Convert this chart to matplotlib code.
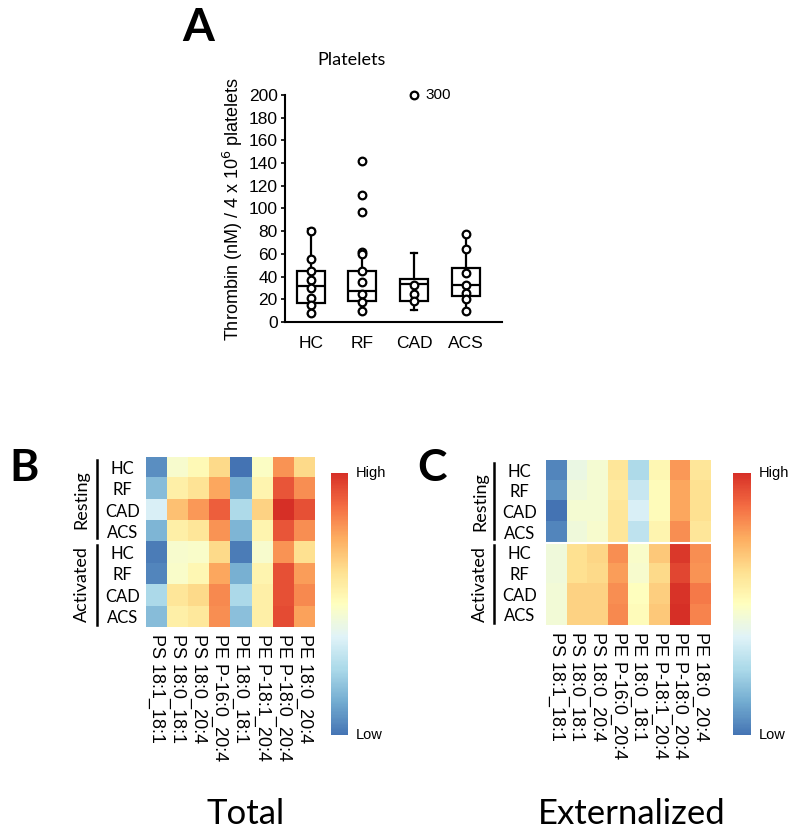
import numpy as np
import matplotlib.pyplot as plt
import matplotlib.colors as mcolors
import matplotlib.transforms as mtrans

# ---- panel A data (thrombin generation, platelets) ----
groups = ["HC", "RF", "CAD", "ACS"]
q1 = [17, 19, 19, 23]
med = [32, 27, 34, 33]
q3 = [45, 45, 38, 48]
whislo = [7, 10, 11, 10]
whishi = [82, 62, 61, 78]
pts_hc = [80, 56, 45, 37, 30, 21, 15, 8]
pts_rf = [142, 112, 97, 62, 60, 45, 35, 25, 18, 10]
pts_cad = [300, 33, 25, 19]
pts_acs = [78, 64, 43, 33, 26, 20, 10]
y_top = 200

# ---- heatmap data (relative level, 0 = low, 1 = high) ----
lipids = ["PS 18:1_18:1", "PS 18:0_18:1", "PS 18:0_20:4", "PE P-16:0_20:4",
          "PE 18:0_18:1", "PE P-18:1_20:4", "PE P-18:0_20:4", "PE 18:0_20:4"]
rows = ["HC", "RF", "CAD", "ACS", "HC", "RF", "CAD", "ACS"]

total = np.array([
    [0.06, 0.47, 0.52, 0.64, 0.00, 0.49, 0.80, 0.64],
    [0.17, 0.56, 0.61, 0.76, 0.13, 0.54, 0.92, 0.81],
    [0.36, 0.70, 0.79, 0.90, 0.26, 0.66, 1.00, 0.93],
    [0.15, 0.56, 0.60, 0.80, 0.15, 0.54, 0.92, 0.81],
    [0.02, 0.47, 0.48, 0.64, 0.02, 0.47, 0.80, 0.62],
    [0.04, 0.48, 0.53, 0.76, 0.14, 0.54, 0.93, 0.78],
    [0.25, 0.60, 0.64, 0.82, 0.25, 0.56, 0.93, 0.82],
    [0.17, 0.56, 0.59, 0.81, 0.18, 0.56, 0.94, 0.77],
])

externalized = np.array([
    [0.04, 0.42, 0.46, 0.60, 0.26, 0.53, 0.79, 0.60],
    [0.07, 0.44, 0.46, 0.58, 0.32, 0.51, 0.76, 0.62],
    [0.00, 0.46, 0.46, 0.60, 0.36, 0.51, 0.76, 0.62],
    [0.04, 0.44, 0.47, 0.60, 0.30, 0.54, 0.81, 0.60],
    [0.44, 0.62, 0.65, 0.81, 0.48, 0.68, 0.98, 0.81],
    [0.44, 0.62, 0.64, 0.78, 0.47, 0.64, 0.95, 0.80],
    [0.45, 0.66, 0.66, 0.81, 0.50, 0.67, 0.99, 0.85],
    [0.45, 0.66, 0.66, 0.82, 0.51, 0.68, 1.00, 0.83],
])

calib = "Lato"
arial = "Liberation Sans"

base = plt.get_cmap("RdYlBu_r")
cmap = mcolors.LinearSegmentedColormap.from_list(
    "rdylbu_cut", base(np.linspace(0.1, 0.9, 256)))

fig = plt.figure(figsize=(8, 8.39), dpi=100)

# ================= panel A =================
axA = fig.add_axes([0.356, 0.616, 0.2715, 0.271])
stats = []
for i in range(len(groups)):
    stats.append(dict(q1=q1[i], med=med[i], q3=q3[i],
                      whislo=whislo[i], whishi=whishi[i], fliers=[]))
axA.bxp(stats, positions=[1, 2, 3, 4], widths=0.54, capwidths=0.12,
        showfliers=False, patch_artist=True,
        boxprops=dict(facecolor="white", edgecolor="black", linewidth=1.6),
        medianprops=dict(color="black", linewidth=1.6),
        whiskerprops=dict(color="black", linewidth=1.6),
        capprops=dict(color="black", linewidth=1.6))

for i, pts in enumerate([pts_hc, pts_rf, pts_cad, pts_acs]):
    shown = [min(v, y_top) for v in pts]
    axA.plot([i + 1] * len(shown), shown, "o", ms=5.5, mfc="white",
             mec="black", mew=1.6, clip_on=False, zorder=5)
axA.text(3.22, y_top, str(max(pts_cad)), fontsize=11, family=arial,
         va="center", ha="left")

axA.set_xlim(0.5, 4.7)
axA.set_ylim(0, y_top)
axA.set_yticks(np.arange(0, 201, 20))
axA.set_xticks([1, 2, 3, 4], groups)
for s in ["top", "right"]:
    axA.spines[s].set_visible(False)
for s in ["left", "bottom"]:
    axA.spines[s].set_linewidth(1.5)
axA.tick_params(axis="y", length=3, width=1.2, labelsize=12.5, pad=2)
axA.tick_params(axis="x", length=0, labelsize=12.5, pad=10)
for lab in axA.get_xticklabels() + axA.get_yticklabels():
    lab.set_family(arial)
axA.set_ylabel("Thrombin (nM) / 4 x 10$^{6}$ platelets", fontsize=13,
               family=arial, labelpad=3)
fig.text(352 / 800, 1 - 60 / 839, "Platelets", fontsize=13, family=calib,
         ha="center", va="center")
fig.text(198 / 800, 1 - 28 / 839, "A", fontsize=33, family=calib,
         weight="bold", ha="center", va="center")


# ================= heatmaps =================
def heat(rect, cbar_rect, data, label_x, line_x, text_x, row_pad, letter_xy, title, title_x, sep):
    ax = fig.add_axes(rect)
    im = ax.imshow(data, cmap=cmap, vmin=0, vmax=1, aspect="auto",
                   interpolation="nearest")
    if sep:
        ax.axhline(3.5, color="white", lw=1.5)
    ax.set_xticks(range(len(lipids)), lipids, rotation=-90, fontsize=13,
                  family=arial)
    ax.set_yticks(range(len(rows)), rows, fontsize=12, family=calib)
    for lab in ax.get_yticklabels():
        lab.set_ha("center")
    ax.tick_params(axis="y", length=0, pad=row_pad)
    ax.tick_params(axis="x", length=0, pad=5)
    for s in ax.spines.values():
        s.set_visible(False)

    tr = mtrans.blended_transform_factory(ax.transAxes, ax.transData)
    ax.plot([line_x, line_x], [-0.36, 3.31], color="black", lw=1.8,
            transform=tr, clip_on=False)
    ax.plot([line_x, line_x], [3.64, 7.4], color="black", lw=1.8,
            transform=tr, clip_on=False)
    ax.text(text_x, 1.5, "Resting", rotation=90, fontsize=13, family=calib,
            ha="center", va="center", transform=tr)
    ax.text(text_x, 5.5, "Activated", rotation=90, fontsize=13, family=calib,
            ha="center", va="center", transform=tr)

    cax = fig.add_axes(cbar_rect)
    cb = fig.colorbar(im, cax=cax)
    cb.set_ticks([])
    cb.outline.set_visible(False)
    cax.text(1.45, 1.0, "High", fontsize=10.5, family=arial,
             transform=cax.transAxes, ha="left", va="center")
    cax.text(1.45, 0.0, "Low", fontsize=10.5, family=arial,
             transform=cax.transAxes, ha="left", va="center")

    fig.text(letter_xy[0] / 800, 1 - letter_xy[1] / 839, label_x,
             fontsize=32, family=calib, weight="bold",
             ha="center", va="center")
    fig.text(title_x / 800, 1 - 814 / 839, title, fontsize=25, family=calib,
             ha="center", va="center")


heat([146 / 800, 1 - 627 / 839, 169 / 800, 170 / 839],
     [331 / 800, 1 - 735 / 839, 17 / 800, 262 / 839],
     total, "B", -0.29, -0.38, 17, (24, 468), "Total", 246, False)
heat([546 / 800, 1 - 625 / 839, 165 / 800, 165 / 839],
     [733 / 800, 1 - 735 / 839, 18 / 800, 262 / 839],
     externalized, "C", -0.315, -0.40, 19, (432, 468), "Externalized", 632, True)

fig.savefig("out.png", dpi=100)
